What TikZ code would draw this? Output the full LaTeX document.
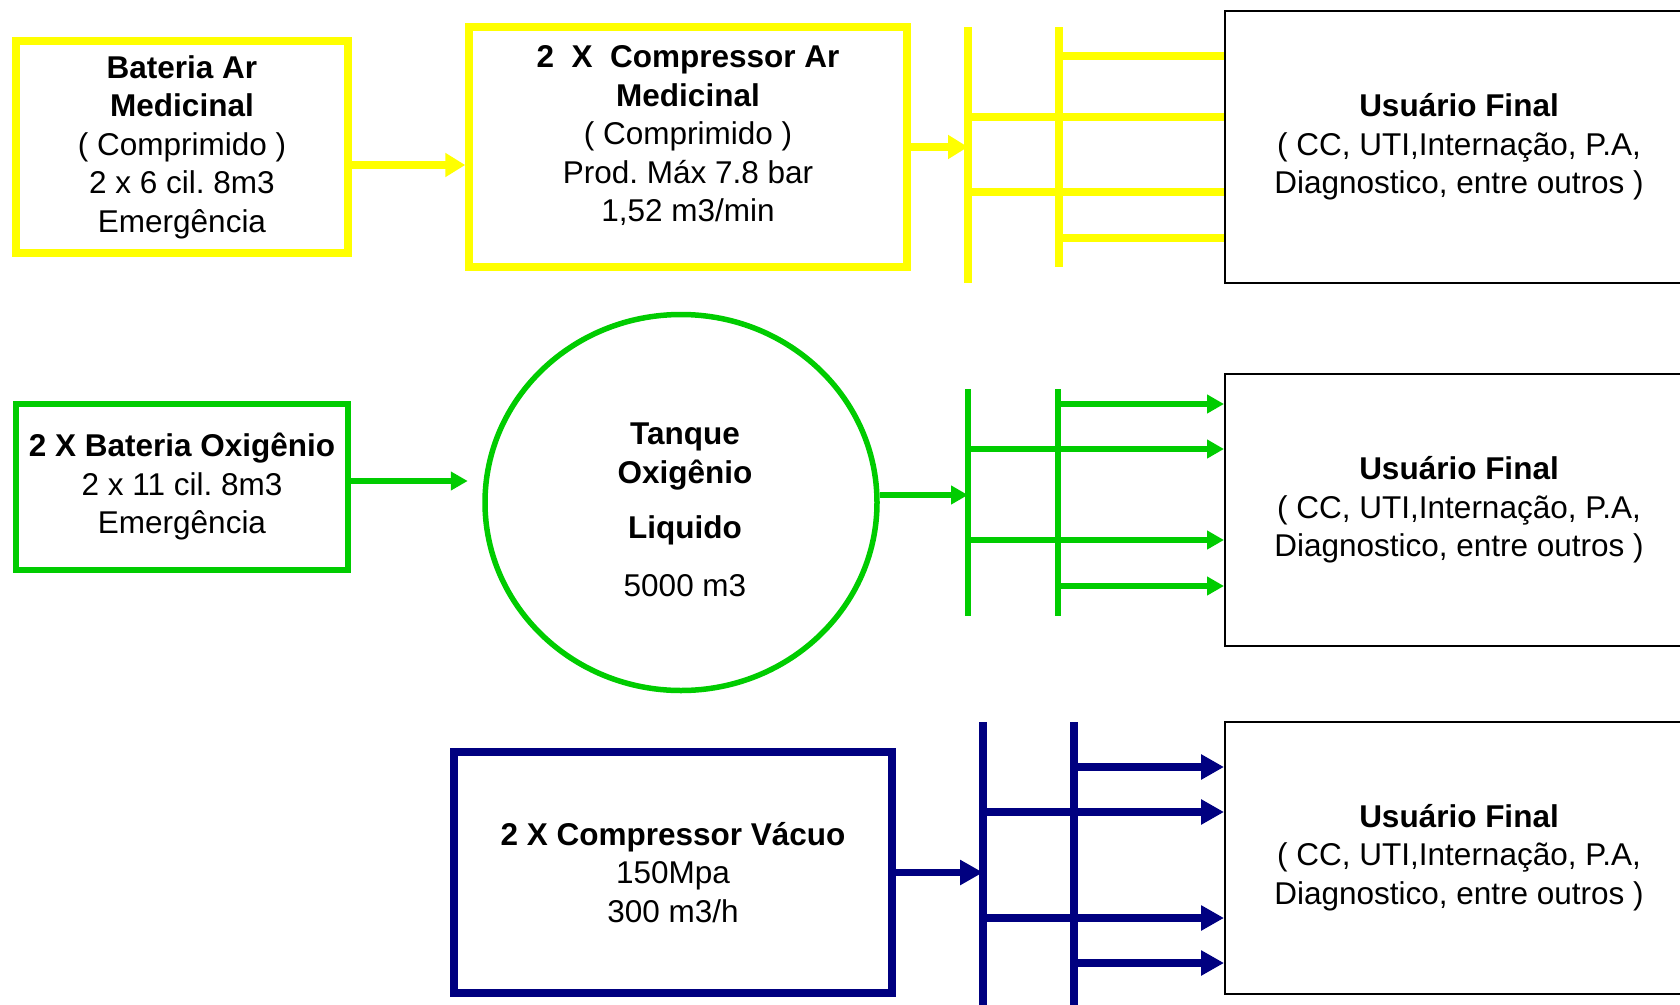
\documentclass[tikz,border=0pt]{standalone}
\usepackage{fontspec}
\setmainfont{Liberation Sans}
\usetikzlibrary{arrows.meta,shapes.geometric}
\frenchspacing

\definecolor{amarelo}{HTML}{FFFF00}
\definecolor{verde}{HTML}{00CC00}
\definecolor{azul}{HTML}{000080}

\newcommand{\usuario}{\textbf{Usuário Final}\\( CC, UTI,Internação, P.A,\\Diagnostico, entre outros )}

\begin{document}
\begin{tikzpicture}[x=1pt,y=-1pt,
  txt/.style={align=center,font=\fontsize{31.5}{38.5}\selectfont},
  caixa/.style={txt,draw,inner sep=0pt},
  ycx/.style={caixa,draw=amarelo,line width=7.5pt},
  gcx/.style={caixa,draw=verde,line width=5.5pt},
  bcx/.style={caixa,draw=azul,line width=8pt},
  ucx/.style={caixa,draw=black,line width=2pt,minimum width=468pt,minimum height=272pt},
  ycano/.style={amarelo,line width=7.5pt},
  gcano/.style={verde,line width=5.5pt},
  bcano/.style={azul,line width=7.5pt},
  yseta/.style={ycano,-{Triangle[length=20pt,width=23pt]}},
  gseta/.style={gcano,-{Triangle[length=17pt,width=18pt]}},
  bseta/.style={bcano,-{Triangle[length=23pt,width=24pt]}}]
  \useasboundingbox (0,0) rectangle (1680,1004);
  % ar medicinal
  \node[ycx,minimum width=332pt,minimum height=212pt] (bat) at (182,147) {\textbf{Bateria Ar}\\\textbf{Medicinal}\\( Comprimido )\\2 x 6 cil. 8m3\\Emergência};
  \node[ycx,minimum width=438pt,minimum height=240pt] (comp) at (688,147) {};
  \node[txt] (comptxt) at (688,136) {\textbf{2~~X~~Compressor Ar}\\\textbf{Medicinal}\\( Comprimido )\\Prod. Máx 7.8 bar\\1,52 m3/min};
  \node[ucx] (uf1) at (1459,147) {\usuario};
  \coordinate (ya1) at (968,27); \coordinate (ya2) at (968,283);
  \coordinate (yb1) at (1059,27); \coordinate (yb2) at (1059,267);
  \draw[ycano] (ya1) -- (ya2) (yb1) -- (yb2);
  \foreach \y in {117,192} \draw[ycano] (ya1 |- 0,\y) -- (uf1.west |- 0,\y);
  \foreach \y in {56,238} \draw[ycano] (yb1 |- 0,\y) -- (uf1.west |- 0,\y);
  \draw[yseta] ([yshift=-18pt]bat.east) coordinate (bs) -- (bs -| comp.west);
  \draw[yseta] (comp.east) -- (ya1 |- comp.east);
  % oxigenio
  \node[gcx,minimum width=332pt,minimum height=166pt] (gbox) at (182,487) {\textbf{2 X Bateria Oxigênio}\\2 x 11 cil. 8m3\\Emergência};
  \node[gcx,ellipse,minimum width=392pt,minimum height=376pt] (tank) at (681,502.5) {};
  \node[txt] (tanktxt) at (685,510) {\textbf{Tanque}\\\textbf{Oxigênio}\\[17pt]\textbf{Liquido}\\[19pt]5000 m3};
  \node[ucx] (uf2) at (1459,510) {\usuario};
  \coordinate (ga1) at (968,389); \coordinate (ga2) at (968,616);
  \coordinate (gb1) at (1058,389); \coordinate (gb2) at (1058,616);
  \draw[gcano] (ga1) -- (ga2) (gb1) -- (gb2);
  \foreach \y in {449,540} \draw[gseta] (ga1 |- 0,\y) -- (uf2.west |- 0,\y);
  \foreach \y in {404,586} \draw[gseta] (gb1 |- 0,\y) -- (uf2.west |- 0,\y);
  \draw[gseta] ([yshift=6pt]gbox.east) -- +(117,0);
  \draw[gseta] ([yshift=7.5pt]tank.east) coordinate (ts) -- (ts -| ga1);
  % vacuo
  \node[bcx,minimum width=438pt,minimum height=241pt] (vac) at (673,872.5) {\textbf{2 X Compressor Vácuo}\\150Mpa\\300 m3/h};
  \node[ucx] (uf3) at (1459,857.5) {\usuario};
  \coordinate (ba1) at (983,722); \coordinate (ba2) at (983,1010);
  \coordinate (bb1) at (1074,722); \coordinate (bb2) at (1074,1010);
  \draw[bcano] (ba1) -- (ba2) (bb1) -- (bb2);
  \foreach \y in {812,918} \draw[bseta] (ba1 |- 0,\y) -- (uf3.west |- 0,\y);
  \foreach \y in {767,963} \draw[bseta] (bb1 |- 0,\y) -- (uf3.west |- 0,\y);
  \draw[bseta] (vac.east) -- (ba1 |- vac.east);
\end{tikzpicture}
\end{document}
